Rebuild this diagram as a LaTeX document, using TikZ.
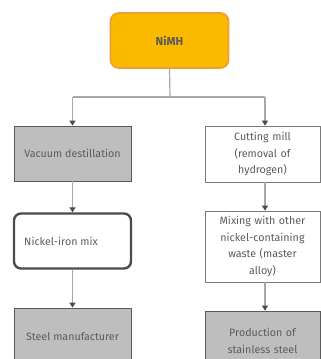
\documentclass[tikz,border=0pt]{standalone}
\usepackage{fontspec}
\setmainfont{Fira Sans}
\usetikzlibrary{arrows.meta,calc}
\definecolor{nimhfill}{HTML}{FBBA00}
\definecolor{nimhedge}{HTML}{EE9F33}
\definecolor{boxgray}{HTML}{BEBEBE}
\definecolor{edgegray}{HTML}{5A5A5A}
\definecolor{wedge}{HTML}{7A7A7A}
\definecolor{txt}{HTML}{5C5C5C}
\definecolor{linegray}{HTML}{A8A8A8}
\definecolor{tipgray}{HTML}{4A4A4A}
\begin{document}
\begin{tikzpicture}[x=1pt,y=-1pt,
  base/.style={inner sep=0pt, align=center, text=txt,
    font=\fontsize{10.7}{16.5}\selectfont},
  graybox/.style={base, fill=boxgray, draw=edgegray, line width=0.8pt},
  whitebox/.style={base, fill=white, draw=wedge, line width=0.8pt},
  roundbox/.style={base, fill=white, draw=edgegray!85!black, line width=2.4pt, rounded corners=7pt},
  nimhbox/.style={base, fill=nimhfill, draw=nimhedge, line width=1.6pt, rounded corners=8pt,
    font=\bfseries\fontsize{11.5}{13}\selectfont, text=edgegray},
  conn/.style={draw=linegray, line width=1.2pt},
  arr/.style={conn, -{Triangle[width=6pt,length=5pt,color=tipgray]}}
]
\useasboundingbox (0,0) rectangle (321,359);
\clip (0,0) rectangle (321,359);
\fill[white] (0,0) rectangle (321,359);

\node[nimhbox, minimum width=118pt, minimum height=55pt] (nimh) at (169.5,40.5) {NiMH};

\node[graybox, minimum width=117pt, minimum height=55pt] (vac) at (72.5,153.5) {Vacuum destillation};
\node[whitebox, minimum width=115pt, minimum height=56pt, text width=112pt] (cut) at (262.5,154) {Cutting mill\\(removal of\\hydrogen)};

\node[roundbox, minimum width=117pt, minimum height=55pt] (nick) at (72.5,241) {};
\node[base, anchor=west] (nicktxt) at (24,241.5) {Nickel-iron mix};

\node[whitebox, minimum width=115pt, minimum height=71pt, text width=112pt] (mix) at (262.5,246.5) {Mixing with other\\nickel-containing\\waste (master\\alloy)};

\node[graybox, minimum width=117pt, minimum height=58pt] (steel) at (72.5,337) {Steel manufacturer};
\node[graybox, minimum width=115pt, minimum height=60pt, text width=112pt] (prod) at (262.5,341) {Production of\\stainless steel};

\coordinate (j) at (170,97);
\coordinate (jl) at (72.5,97);
\coordinate (jr) at (265,97);

\draw[conn] (nimh.south) -- (j);
\draw[conn] (jl) -- (jr);
\draw[arr] (jl) -- (vac.north);
\draw[arr] (jr) -- (jr |- cut.north);
\draw[arr] (vac.south) -- (nick.north);
\draw[arr] (nick.south) -- (steel.north);
\draw[arr] (cut.south -| jr) -- (mix.north -| jr);
\draw[arr] (mix.south -| jr) -- (prod.north -| jr);
\end{tikzpicture}
\end{document}
